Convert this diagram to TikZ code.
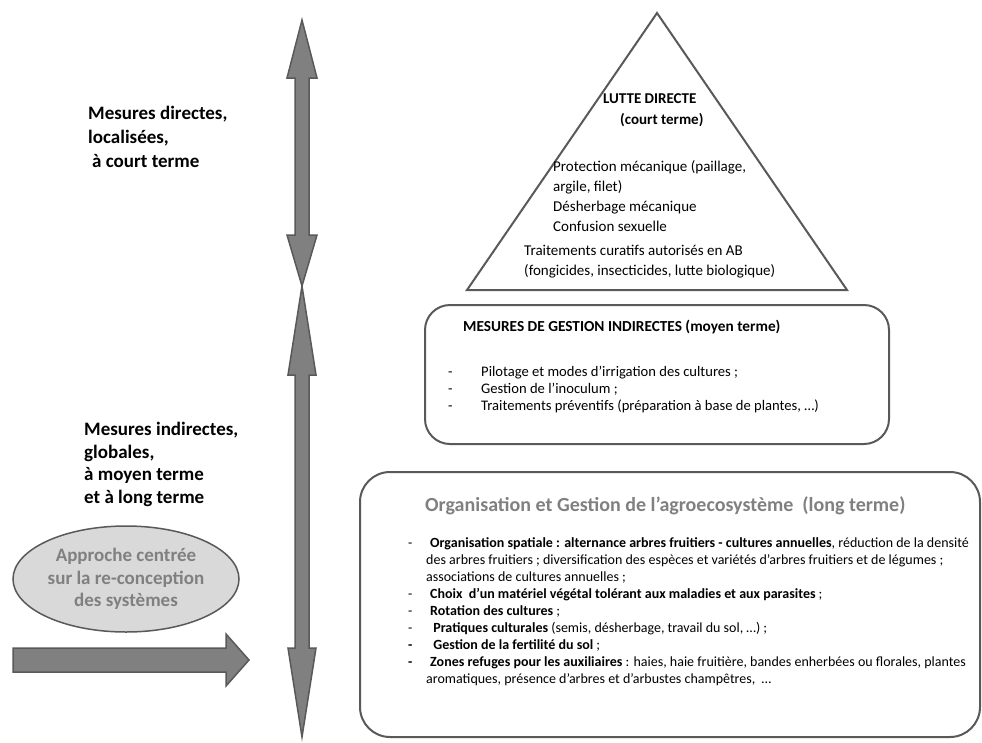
\documentclass[tikz,border=0pt]{standalone}
\usepackage{fontspec}
\setmainfont{Carlito}
\usetikzlibrary{positioning,shapes.geometric}
\definecolor{edgegray}{HTML}{595959}
\definecolor{arrowgray}{HTML}{808080}
\definecolor{softgray}{HTML}{D9D9D9}
\definecolor{titlegray}{HTML}{808080}
\newcommand\bulletdash[1]{\makebox[#1][l]{-}}

\begin{document}
\begin{tikzpicture}[
  x=1pt, y=-1pt,
  bigarrow/.style={draw=edgegray, fill=arrowgray, line width=1.5pt, line join=miter},
  panel/.style={draw=edgegray, line width=2pt, rounded corners=#1, inner sep=0pt},
  side/.style={font=\fontsize{19}{24}\selectfont\bfseries, align=left, inner sep=0pt, anchor=base west},
  tritext/.style={font=\fontsize{15}{20}\selectfont, align=left, inner sep=0pt, anchor=base west},
  midtext/.style={font=\fontsize{14.6}{17}\selectfont, align=left, inner sep=0pt, anchor=base west},
  longtext/.style={font=\fontsize{14}{17}\selectfont, align=left, inner sep=0pt, anchor=base west}]

  \useasboundingbox (0,0) rectangle (982,742);

  % the time axis (a multi-line node sits on its last baseline)
  \draw[bigarrow] (302,20) -- (317,78) -- (309,78) -- (309,235) -- (317,235) -- (302,286)
    -- (287,235) -- (295,235) -- (295,78) -- (287,78) -- cycle;
  \draw[bigarrow] (302,286) -- (316,375) -- (309,375) -- (309,648) -- (316,648) -- (302,737)
    -- (288,648) -- (295,648) -- (295,375) -- (288,375) -- cycle;
  \draw[bigarrow] (13,648) -- (226,648) -- (226,634) -- (249,660) -- (226,686) -- (226,672)
    -- (13,672) -- cycle;

  \node[side] (direct) at (88,167.5) {Mesures directes,\\localisées,\\\hspace*{4pt}à court terme};
  \node[side, font=\fontsize{19}{22.5}\selectfont\bfseries] (indirect) at (84,503)
    {Mesures indirectes,\\globales,\\à moyen terme\\et à long terme};

  \node[ellipse, draw=edgegray, fill=softgray, line width=1.5pt, minimum width=226pt,
    minimum height=106pt, inner sep=0pt, text=titlegray, align=center,
    font=\fontsize{19}{22.5}\selectfont\bfseries] (redesign) at (126,579)
    {Approche centrée\\sur la re-conception\\des systèmes};

  % pyramid: short term
  \draw[edgegray, line width=2pt] (657,13) coordinate (apex) -- (847,290) coordinate (baseR)
    -- (467,290) coordinate (baseL) -- cycle;
  \node[tritext, font=\fontsize{15}{21}\selectfont\bfseries] (lutte) at (603,124.5)
    {LUTTE DIRECTE\\\hspace*{17pt}(court terme)};
  \node[tritext] (mecanique) at (553,231.5)
    {Protection mécanique (paillage,\\argile, filet)\\Désherbage mécanique\\Confusion sexuelle};
  \node[tritext] (curatif) at (524,275.5)
    {Traitements curatifs autorisés en AB\\(fongicides, insecticides, lutte biologique)};

  % medium term
  \node[panel=25pt, minimum width=464pt, minimum height=139pt] (midterm) at (657,374.5) {};
  \node[midtext, font=\fontsize{15.3}{18}\selectfont\bfseries] (midtitle) at (463,331.5)
    {MESURES DE GESTION INDIRECTES (moyen terme)};
  \node[midtext] (miditems) at (448,410)
    {\bulletdash{33pt}Pilotage et modes d’irrigation des cultures ;\\
     \bulletdash{33pt}Gestion de l’inoculum ;\\
     \bulletdash{33pt}Traitements préventifs (préparation à base de plantes, …)};

  % long term
  \node[panel=30pt, minimum width=620pt, minimum height=265pt] (longterm) at (670,604.5) {};
  \node[longtext, font=\fontsize{20}{24}\selectfont\bfseries, text=titlegray] (longtitle)
    at (425,511.5) {Organisation et Gestion de l’agroecosystème \ (long terme)};
  \node[longtext] (longitems) at (408,683)
    {\bulletdash{22pt}\textbf{Organisation spatiale : alternance arbres fruitiers - cultures annuelles}, réduction de la densité\\
     \hspace*{18pt}des arbres fruitiers ; diversification des espèces et variétés d’arbres fruitiers et de légumes ;\\
     \hspace*{18pt}associations de cultures annuelles ;\\
     \bulletdash{22pt}\textbf{Choix \ d’un matériel végétal tolérant aux maladies et aux parasites} ;\\
     \bulletdash{22pt}\textbf{Rotation des cultures} ;\\
     \bulletdash{22pt}\textbf{\ Pratiques culturales} (semis, désherbage, travail du sol, …) ;\\
     \textbf{\bulletdash{22pt}\ Gestion de la fertilité du sol} ;\\
     \textbf{\bulletdash{22pt}Zones refuges pour les auxiliaires} : haies, haie fruitière, bandes enherbées ou florales, plantes\\
     \hspace*{18pt}aromatiques, présence d’arbres et d’arbustes champêtres, \ …};

\end{tikzpicture}
\end{document}
